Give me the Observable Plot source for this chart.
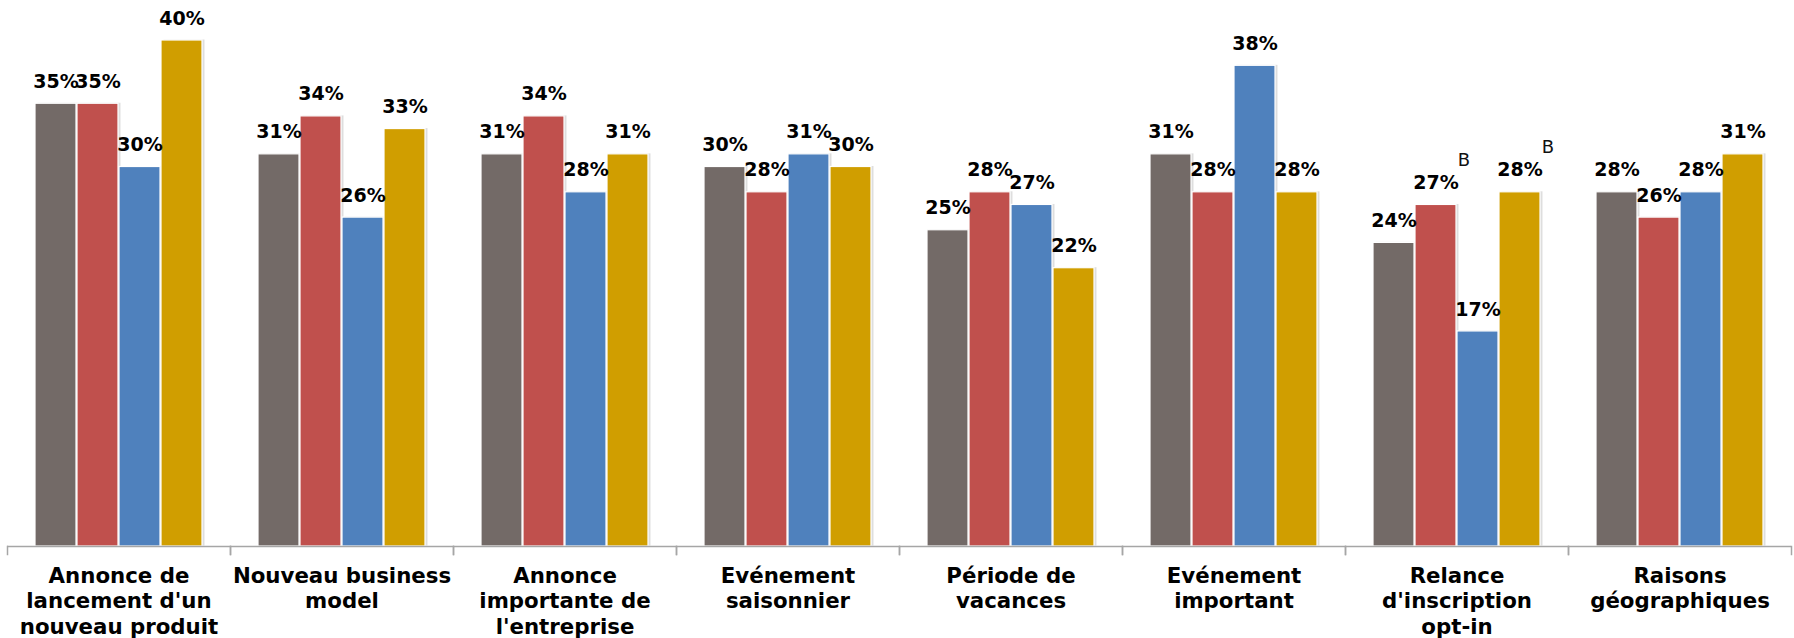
<!DOCTYPE html>
<html>
<head>
<meta charset="utf-8">
<script src="https://cdn.jsdelivr.net/npm/d3@7"></script>
<script src="https://cdn.jsdelivr.net/npm/@observablehq/plot@0.6"></script>
<style>
  html, body { margin: 0; padding: 0; background: #fff; }
  #chart { width: 1794px; height: 638px; overflow: hidden; }
</style>
</head>
<body>
<div id="chart"></div>
<script>
// Categories (full names) and their multi-line tick labels
const categories = [
  "Annonce de lancement d'un nouveau produit",
  "Nouveau business model",
  "Annonce importante de l'entreprise",
  "Evénement saisonnier",
  "Période de vacances",
  "Evénement important",
  "Relance d'inscription opt-in",
  "Raisons géographiques"
];
const tickLabels = [
  "Annonce de\nlancement d'un\nnouveau produit",
  "Nouveau business\nmodel",
  "Annonce\nimportante de\nl'entreprise",
  "Evénement\nsaisonnier",
  "Période de\nvacances",
  "Evénement\nimportant",
  "Relance\nd'inscription\nopt-in",
  "Raisons\ngéographiques"
];
const series = ["A", "B", "C", "D"];
const seriesColors = ["#736a67", "#c0504d", "#4f81bd", "#d09e00"];

// Values (%) per series, one per category
const valuesA = [35, 31, 31, 30, 25, 31, 24, 28];
const valuesB = [35, 34, 34, 28, 28, 28, 27, 26];
const valuesC = [30, 26, 28, 31, 27, 38, 17, 28];
const valuesD = [40, 33, 31, 30, 22, 28, 28, 31];

// Significance letters
const sigCategories = ["Relance d'inscription opt-in", "Relance d'inscription opt-in"];
const sigSeries = ["B", "D"];
const sigLetters = ["B", "B"];

const allValues = [valuesA, valuesB, valuesC, valuesD];
const data = [];
categories.forEach((c, i) => {
  series.forEach((s, j) => {
    data.push({category: c, series: s, value: allValues[j][i]});
  });
});
const sigData = sigCategories.map((c, i) => {
  const j = series.indexOf(sigSeries[i]);
  const k = categories.indexOf(c);
  return {category: c, series: sigSeries[i], value: allValues[j][k], letter: sigLetters[i]};
});

const axisColor = "#a6a6a6";

const chart = Plot.plot({
  width: 1794,
  height: 638,
  marginTop: 40,
  marginBottom: 92,
  marginLeft: 7,
  marginRight: 3,
  style: {fontFamily: "'DejaVu Sans', Verdana, sans-serif", background: "#fff", overflow: "visible"},
  fx: {domain: categories, padding: 0},
  x: {domain: series, paddingInner: 0.03, paddingOuter: 0.634, axis: null},
  y: {domain: [0, 40], axis: null},
  color: {domain: series, range: seriesColors},
  marks: [
    // soft shadow
    Plot.barY(data, {fx: "category", x: "series", y: "value", fill: "#000", fillOpacity: 0.13, dx: 2.5, dy: -0.5}),
    Plot.barY(data, {fx: "category", x: "series", y: "value", fill: "series", stroke: "#fff", strokeWidth: 1.2}),
    Plot.ruleY([0], {stroke: axisColor, strokeWidth: 1.5}),
    Plot.frame({anchor: "left", stroke: axisColor, strokeWidth: 1.5, insetTop: 506, insetBottom: -8}),
    Plot.frame({anchor: "right", stroke: axisColor, strokeWidth: 1.5, insetTop: 506, insetBottom: -8}),
    Plot.text(data, {fx: "category", x: "series", y: "value", text: d => d.value + "%", dy: -22, lineAnchor: "middle", fontWeight: "bold", fontSize: 19, fill: "#000"}),
    Plot.text(sigData, {fx: "category", x: "series", y: "value", text: "letter", dx: 28, dy: -45, lineAnchor: "middle", fontSize: 18, fill: "#111"}),
    Plot.axisFx({anchor: "bottom", tickSize: 0, tickPadding: 19, fontSize: 21.3, fontWeight: "bold", lineHeight: 1.18, fill: "#000", label: null, tickFormat: d => tickLabels[categories.indexOf(d)]})
  ]
});
document.getElementById("chart").appendChild(chart);
</script>
</body>
</html>
